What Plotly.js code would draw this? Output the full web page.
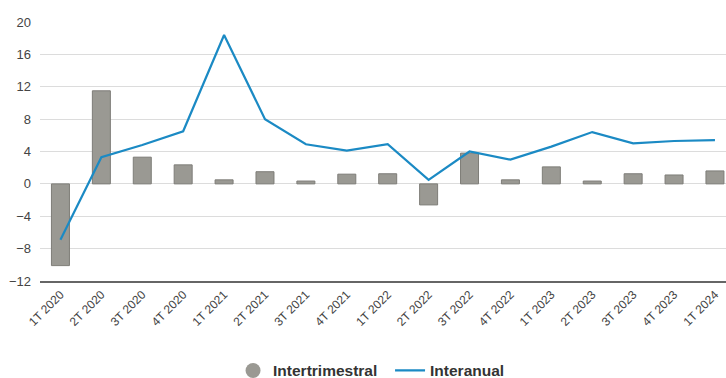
<!DOCTYPE html>
<html><head><meta charset="utf-8">
<script src="https://cdn.plot.ly/plotly-3.0.1.min.js"></script>
<style>html,body{margin:0;padding:0;background:#fff}#c{width:726px;height:378px}</style>
</head><body><div id="c"></div>
<script>
var categories = ["1T 2020","2T 2020","3T 2020","4T 2020","1T 2021","2T 2021","3T 2021","4T 2021","1T 2022","2T 2022","3T 2022","4T 2022","1T 2023","2T 2023","3T 2023","4T 2023","1T 2024"];
var intertrimestral = [-10.1,11.5,3.3,2.35,0.5,1.5,0.35,1.2,1.25,-2.6,3.8,0.5,2.1,0.35,1.25,1.1,1.6];
var interanual = [-6.9,3.3,4.8,6.5,18.4,8.0,4.9,4.1,4.9,0.5,4.0,3.0,4.6,6.4,5.0,5.3,5.4];
var yTicks = [-12,-8,-4,0,4,8,12,16,20];

var traces = [
 {type:'bar', x:categories, y:intertrimestral, name:'Intertrimestral', showlegend:false,
  marker:{color:'#9a9993', line:{color:'#7e7d78', width:1}}, width:0.44},
 {type:'scatter', mode:'markers', x:[categories[0]], y:[null], name:'Intertrimestral',
  marker:{color:'#9a9993', size:15, symbol:'circle'}},
 {type:'scatter', mode:'lines', x:categories, y:interanual, name:'Interanual',
  line:{color:'#1b8ac4', width:2.2}}
];
var layout = {
 width:726, height:378,
 margin:{l:40, r:0, t:22, b:97, autoexpand:false},
 paper_bgcolor:'#fff', plot_bgcolor:'#fff',
 font:{family:'Liberation Sans, Arial, sans-serif', color:'#444', size:12},
 showlegend:true,
 legend:{orientation:'h', x:0.321, xref:'container', xanchor:'left', yref:'paper', y:-0.347, yanchor:'middle',
   font:{size:15.5, color:'#333', family:'Liberation Sans, Arial, sans-serif', weight:'bold'},
   traceorder:'normal', itemwidth:30, entrywidth:112},
 xaxis:{type:'category', range:[-0.5,16.27], tickangle:-45, showgrid:false, automargin:false,
   showline:true, linecolor:'#666', linewidth:2, ticks:'', tickfont:{size:12,color:'#444'}},
 yaxis:{range:[-12,20], tickvals:yTicks, showgrid:true, gridcolor:'#dcdcdc', gridwidth:1, automargin:false,
   zeroline:false, showline:false, ticks:'', tickfont:{size:13,color:'#444'}, ticklabelstandoff:8},
 annotations:[{text:'Variació (%)', xref:'paper', yref:'paper', x:-0.058, xanchor:'left', y:1.0, yshift:22, yanchor:'bottom',
   showarrow:false, font:{size:17, color:'#444', family:'Liberation Sans, Arial, sans-serif'}}]
};
Plotly.newPlot('c', traces, layout, {displayModeBar:false, staticPlot:true});
</script></body></html>
